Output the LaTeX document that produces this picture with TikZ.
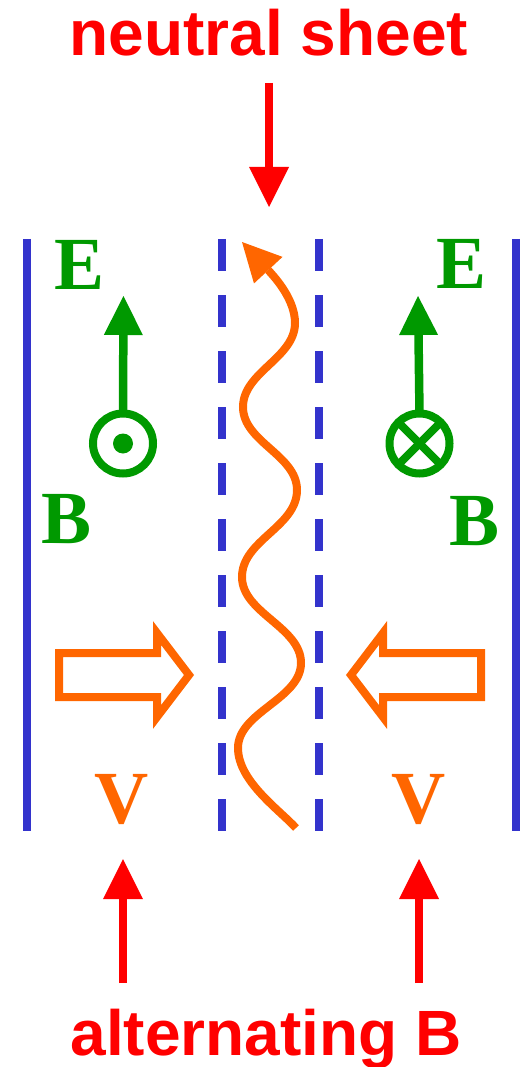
\documentclass[tikz,border=0pt]{standalone}
\usepackage{fontspec}
\setmainfont{Liberation Serif}
\newfontfamily\arialfont{Liberation Sans}
\usetikzlibrary{arrows.meta,calc}
\definecolor{rd}{RGB}{255,0,0}
\definecolor{gn}{RGB}{0,153,0}
\definecolor{bl}{RGB}{51,51,204}
\definecolor{og}{RGB}{255,102,0}
\tikzset{
  sanslabel/.style={text=rd,font=\arialfont\bfseries\fontsize{64}{64}\selectfont,inner sep=0pt,anchor=base},
  serifgreen/.style={text=gn,font=\bfseries\fontsize{75}{75}\selectfont,inner sep=0pt,anchor=base},
  serifrange/.style={text=og,font=\bfseries\fontsize{75}{75}\selectfont,inner sep=0pt,anchor=base},
  redarrow/.style={draw=rd,line width=7.7pt,-{Triangle[length=40pt,width=40pt,line width=0pt]}},
  greenarrow/.style={draw=gn,line width=8.5pt,-{Triangle[length=39pt,width=39pt,line width=0pt]}},
  fieldcircle/.style={circle,draw=gn,line width=8pt,minimum size=60pt,inner sep=0pt,outer sep=0pt},
  solidplate/.style={draw=bl,line width=8pt},
  dashplate/.style={draw=bl,line width=8pt,dash pattern=on 32pt off 24pt},
  blockarrow/.style={draw=og,line width=8pt,line join=miter,miter limit=10},
  wave/.style={draw=og,line width=8pt,-{Triangle[length=38.5pt,width=39pt,line width=0pt]}}
}
\begin{document}
\begin{tikzpicture}[x=1pt,y=1pt]
\useasboundingbox (0,0) rectangle (524,-1067);
% texts
\node[sanslabel] (ns) at (269,-56) {neutral sheet};
\node[sanslabel] (ab) at (266,-1055) {alternating B};
\node[serifgreen] (EL) at (80,-289) {E};
\node[serifgreen] (ER) at (462,-288) {E};
\node[serifgreen] (BL) at (67,-543) {B};
\node[serifgreen] (BR) at (475,-545) {B};
\node[serifrange] (VL) at (122,-823) {V};
\node[serifrange] (VR) at (418.5,-823) {V};
% plates
\draw[solidplate] (27,-239) -- (27,-831);
\draw[solidplate] (516,-239) -- (516,-831);
\draw[dashplate] (222,-239) -- (222,-831);
\draw[dashplate] (319,-239) -- (319,-831);
% red arrows
\coordinate (nsA) at (269,-83);
\coordinate (nsB) at (269,-207);
\draw[redarrow] (nsA) -- (nsB);
\coordinate (abLA) at (123,-983);
\coordinate (abLB) at (123,-859);
\coordinate (abRA) at (419,-983);
\coordinate (abRB) at (419,-859);
\draw[redarrow] (abLA) -- (abLB);
\draw[redarrow] (abRA) -- (abRB);
% field symbols
\node[fieldcircle] (cL) at (123,-443.5) {};
\fill[gn] (cL.center) circle (10);
\node[fieldcircle] (cR) at (419.5,-443.5) {};
\draw[gn,line width=8pt] ($(cR.center)+(45:30)$) -- ($(cR.center)+(225:30)$);
\draw[gn,line width=8pt] ($(cR.center)+(135:30)$) -- ($(cR.center)+(315:30)$);
\coordinate (eLtip) at (123.5,-296);
\coordinate (eRtip) at (418,-296);
\draw[greenarrow] (cL.north) -- (eLtip);
\draw[greenarrow] (cR.north) -- (eRtip);
% block arrows
\draw[blockarrow] (59,-653) -- (157,-653) -- (157,-633) -- (189,-675) -- (157,-717) -- (157,-697) -- (59,-697) -- cycle;
\draw[blockarrow] (481,-653) -- (383,-653) -- (383,-633) -- (351,-675) -- (383,-717) -- (383,-697) -- (481,-697) -- cycle;
% wave
\coordinate (w0) at (296,-828);
\coordinate (wtip) at (242,-242);
\draw[wave] (w0) .. controls (279,-809.5) and (238,-781) .. (238,-748)
  .. controls (238,-712) and (301,-699) .. (301,-663)
  .. controls (301,-627) and (242,-613) .. (242,-577)
  .. controls (242,-540) and (297,-527) .. (297,-490)
  .. controls (297,-455) and (243,-442) .. (243,-407)
  .. controls (243,-372) and (295,-358) .. (295,-323)
  .. controls (295,-300) and (276,-278.5) .. (wtip);
\end{tikzpicture}
\end{document}
